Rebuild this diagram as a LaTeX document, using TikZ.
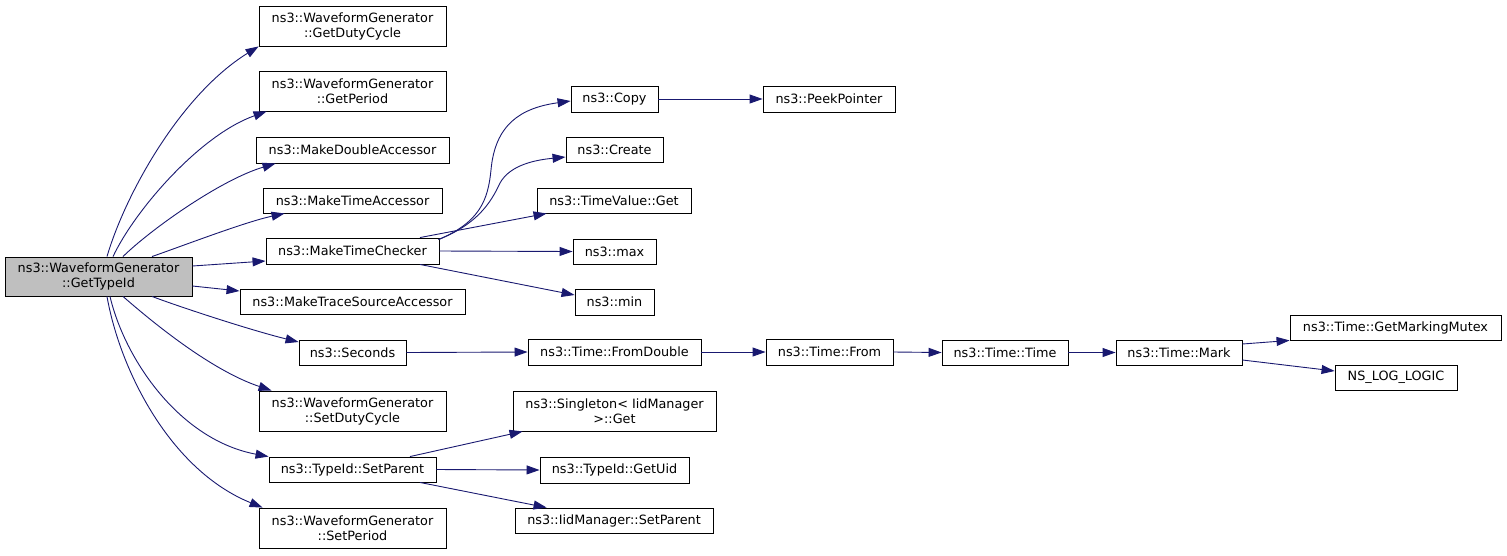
\documentclass[tikz,border=0pt]{standalone}
\usepackage{fontspec}
\setmainfont{DejaVu Sans}
\usetikzlibrary{arrows.meta}
\definecolor{edgeblue}{HTML}{191970}
\definecolor{rootfill}{HTML}{BFBFBF}
\tikzset{
  fn/.style={draw=black, line width=0.9pt, fill=white, inner sep=0pt, align=center,
    font=\fontsize{12.8}{15}\selectfont, text=black},
  rootbox/.style={fn, fill=rootfill},
  edge/.style={draw=edgeblue, line width=0.9pt, -{Triangle[length=13pt,width=9pt]}, edgeblue},
}
\begin{document}
\begin{tikzpicture}[x=1pt,y=-1pt]
\useasboundingbox (0,0) rectangle (1507,555);
% nodes
\node[rootbox, minimum width=187pt, minimum height=39pt] (root) at (98.5,276.5) {ns3::WaveformGenerator\\::GetTypeId};
\node[fn, minimum width=187pt, minimum height=40pt] (gdc) at (352.5,26) {ns3::WaveformGenerator\\::GetDutyCycle};
\node[fn, minimum width=187pt, minimum height=40pt] (gp) at (352.5,91) {ns3::WaveformGenerator\\::GetPeriod};
\node[fn, minimum width=193pt, minimum height=26pt] (mda) at (352.5,150) {ns3::MakeDoubleAccessor};
\node[fn, minimum width=179pt, minimum height=25pt] (mta) at (352.5,200.5) {ns3::MakeTimeAccessor};
\node[fn, minimum width=173pt, minimum height=26pt] (mtc) at (352.5,251) {ns3::MakeTimeChecker};
\node[fn, minimum width=225pt, minimum height=25pt] (mtsa) at (352.5,301.5) {ns3::MakeTraceSourceAccessor};
\node[fn, minimum width=107pt, minimum height=25pt] (sec) at (352.5,352.5) {ns3::Seconds};
\node[fn, minimum width=187pt, minimum height=40pt] (sdc) at (352.5,411) {ns3::WaveformGenerator\\::SetDutyCycle};
\node[fn, minimum width=167pt, minimum height=25pt] (sp) at (352.5,469.5) {ns3::TypeId::SetParent};
\node[fn, minimum width=187pt, minimum height=40pt] (spd) at (352.5,528) {ns3::WaveformGenerator\\::SetPeriod};

\node[fn, minimum width=87pt, minimum height=26pt] (copy) at (614.5,99) {ns3::Copy};
\node[fn, minimum width=132pt, minimum height=26pt] (peek) at (829,99) {ns3::PeekPointer};
\node[fn, minimum width=97pt, minimum height=25pt] (create) at (614.5,149.5) {ns3::Create};
\node[fn, minimum width=154pt, minimum height=25pt] (tvget) at (614,200.5) {ns3::TimeValue::Get};
\node[fn, minimum width=83pt, minimum height=25pt] (max) at (614.5,251.5) {ns3::max};
\node[fn, minimum width=79pt, minimum height=26pt] (min) at (614.5,302) {ns3::min};
\node[fn, minimum width=173pt, minimum height=26pt] (fromd) at (614.5,352) {ns3::Time::FromDouble};
\node[fn, minimum width=203pt, minimum height=40pt] (single) at (614.5,411) {ns3::Singleton< IidManager\\ >::Get};
\node[fn, minimum width=149pt, minimum height=26pt] (getuid) at (614.5,470) {ns3::TypeId::GetUid};
\node[fn, minimum width=198pt, minimum height=25pt] (iidsp) at (614,520.5) {ns3::IidManager::SetParent};

\node[fn, minimum width=127pt, minimum height=26pt] (from) at (829.5,352) {ns3::Time::From};
\node[fn, minimum width=126pt, minimum height=25pt] (ttime) at (1005,352.5) {ns3::Time::Time};
\node[fn, minimum width=126pt, minimum height=25pt] (mark) at (1179,352.5) {ns3::Time::Mark};
\node[fn, minimum width=211pt, minimum height=25pt] (gmm) at (1395.5,327.5) {ns3::Time::GetMarkingMutex};
\node[fn, minimum width=122pt, minimum height=25pt] (nslog) at (1396,377.5) {NS\_LOG\_LOGIC};

% edges from root
\draw[edge] ([xshift=8.5pt]root.north) .. controls (125,195) and (180,95) .. (gdc.south west);
\draw[edge] ([xshift=14.5pt]root.north) .. controls (135,210) and (200,135) .. ([xshift=8pt]gp.south west);
\draw[edge] ([xshift=24.5pt]root.north) .. controls (150,230) and (220,180) .. ([xshift=20pt]mda.south west);
\draw[edge] ([xshift=53.5pt]root.north) .. controls (185,245) and (245,222) .. ([xshift=22pt]mta.south west);
\draw[edge] ([yshift=10.5pt]root.east) -- ([yshift=-10pt]mtc.west);
\draw[edge] ([yshift=-9.5pt]root.east) -- ([yshift=10.5pt]mtsa.west);
\draw[edge] ([xshift=53.5pt]root.south) .. controls (180,307) and (250,330) .. ([yshift=10.5pt]sec.west);
\draw[edge] ([xshift=24.5pt]root.south) .. controls (150,320) and (210,370) .. ([xshift=13pt]sdc.north west);
\draw[edge] ([xshift=11.5pt]root.south) .. controls (125,360) and (180,440) .. (sp.north west);
\draw[edge] ([xshift=8.5pt]root.south) .. controls (120,370) and (170,470) .. ([xshift=4pt]spd.north west);

% MakeTimeChecker edges
\draw[edge] ([xshift=86pt,yshift=-2pt]mtc.north) .. controls (480,222) and (488,200) .. (491,170) .. controls (495,125) and (520,108) .. ([yshift=-2pt]copy.west);
\draw[edge] ([xshift=86pt,yshift=-2pt]mtc.north) .. controls (475,225) and (490,205) .. (500,183) .. controls (510,165) and (535,160) .. ([yshift=-7.5pt]create.west);
\draw[edge] ([xshift=67.5pt]mtc.north) -- ([xshift=10pt]tvget.south west);
\draw[edge] (mtc.east) -- (max.west);
\draw[edge] ([xshift=67.5pt]mtc.south) -- ([yshift=7pt]min.west);

\draw[edge] (copy.east) -- (peek.west);

% Seconds chain
\draw[edge] (sec.east) -- (fromd.west);
\draw[edge] (fromd.east) -- (from.west);
\draw[edge] (from.east) -- (ttime.west);
\draw[edge] (ttime.east) -- (mark.west);
\draw[edge] ([yshift=8.5pt]mark.east) -- (gmm.south west);
\draw[edge] ([yshift=-7.5pt]mark.east) -- ([yshift=6.5pt]nslog.west);

% SetParent edges
\draw[edge] ([xshift=57.5pt]sp.north) -- ([xshift=10pt]single.south west);
\draw[edge] (sp.east) -- (getuid.west);
\draw[edge] ([xshift=67.5pt]sp.south) -- ([xshift=32pt]iidsp.north west);
\end{tikzpicture}
\end{document}
